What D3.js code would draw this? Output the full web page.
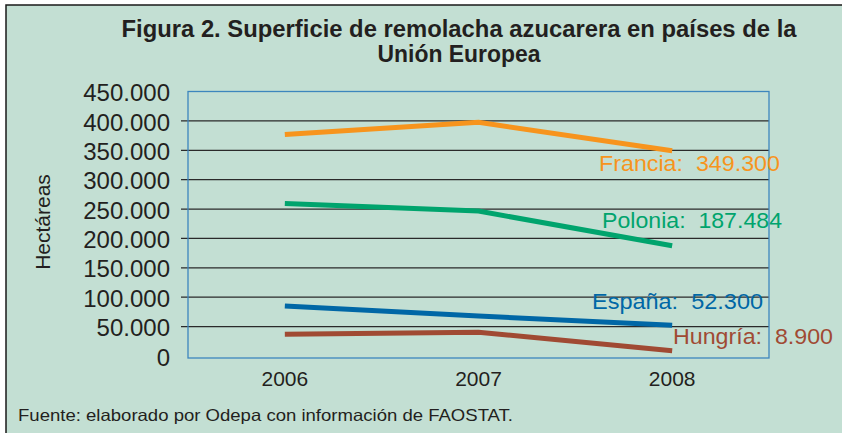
<!DOCTYPE html>
<html><head><meta charset="utf-8">
<script src="https://cdn.jsdelivr.net/npm/d3@7"></script>
<style>
html,body{margin:0;padding:0;background:#fff;}
svg{display:block;font-family:"Liberation Sans",Arial,sans-serif;}
</style></head>
<body>
<svg id="c" width="842" height="433"></svg>
<script>
const years = ["2006","2007","2008"];
const seriesNames = ["Francia","Polonia","España","Hungría"];
const francia = [377000, 397500, 349300];
const polonia = [259500, 246500, 187484];
const espana = [85000, 68000, 52300];
const hungria = [37000, 40400, 8900];
const endLabels = ["Francia:  349.300","Polonia:  187.484","España:  52.300","Hungría:  8.900"];
const yTicks = [0,50000,100000,150000,200000,250000,300000,350000,400000,450000];
const titleLines = ["Figura 2. Superficie de remolacha azucarera en países de la","Unión Europea"];
const yTitle = "Hectáreas";
const source = "Fuente: elaborado por Odepa con información de FAOSTAT.";

const colors = ["#f7941d","#00a46d","#0067a6","#a04a33"];
const values = [francia, polonia, espana, hungria];

const svg = d3.select("#c");
svg.append("rect").attr("x",6).attr("y",5).attr("width",842).attr("height",440)
  .attr("fill","#c3dfd3").attr("stroke","#1a1a1a").attr("stroke-width",1.5);

const pL=188, pR=769, pT=91.5, pB=356;
const x = d3.scaleBand().domain(years).range([pL,pR]);
const y = d3.scaleLinear().domain([0,450000]).range([pB,pT]);
const loc = d3.formatLocale({decimal:",",thousands:".",grouping:[3],currency:["",""]});
const fmt = loc.format(",");

svg.append("text").attr("x",459).attr("y",36.5).attr("text-anchor","middle")
  .attr("font-weight","bold").attr("font-size",23).attr("fill","#231f20")
  .attr("textLength",675).attr("lengthAdjust","spacingAndGlyphs").text(titleLines[0]);
svg.append("text").attr("x",459).attr("y",62).attr("text-anchor","middle")
  .attr("font-weight","bold").attr("font-size",23).attr("fill","#231f20")
  .attr("textLength",163).attr("lengthAdjust","spacingAndGlyphs").text(titleLines[1]);

const grid = svg.append("g");
grid.selectAll("line").data(yTicks.filter(d=>d>0 && d<450000)).join("line")
  .attr("x1",pL-7).attr("x2",pR).attr("y1",d=>y(d)).attr("y2",d=>y(d))
  .attr("stroke","#2a2a2a").attr("stroke-width",1.3);

const yAxis = svg.append("g").attr("transform",`translate(${pL},0)`)
  .call(d3.axisLeft(y).tickValues(yTicks).tickFormat(d=>fmt(d)).tickSize(0).tickPadding(18));
yAxis.select(".domain").remove();
yAxis.selectAll("text").attr("font-size",24).attr("fill","#231f20")
  .attr("font-family","'Liberation Sans',Arial,sans-serif").attr("dy","0.38em");

svg.append("rect").attr("x",pL).attr("y",y(450000)).attr("width",pR-pL).attr("height",pB+2-y(450000))
  .attr("fill","none").attr("stroke","#3d86bd").attr("stroke-width",1.3);

const xAxis = svg.append("g").attr("transform",`translate(0,${pB})`)
  .call(d3.axisBottom(x).tickSize(0).tickPadding(15));
xAxis.select(".domain").remove();
xAxis.selectAll("text").attr("font-size",21).attr("fill","#231f20")
  .attr("font-family","'Liberation Sans',Arial,sans-serif");

svg.append("text").attr("transform","translate(50,222) rotate(-90)").attr("text-anchor","middle")
  .attr("font-size",21).attr("fill","#231f20").text(yTitle);

const line = d3.line().x((d,i)=>x(years[i])+x.bandwidth()/2).y(d=>y(d));
values.forEach((v,k)=>{
  svg.append("path").datum(v).attr("d",line).attr("fill","none")
    .attr("stroke",colors[k]).attr("stroke-width",5);
});

const labPos = [[780,171],[782,228],[763,309],[833,344]];
const labW = [181,180,171,160];
endLabels.forEach((t,k)=>{
  svg.append("text").attr("x",labPos[k][0]).attr("y",labPos[k][1]).attr("text-anchor","end")
    .attr("font-size",22).attr("fill",colors[k])
    .style("white-space","pre")
    .attr("textLength",labW[k]).attr("lengthAdjust","spacingAndGlyphs").text(t);
});

svg.append("text").attr("x",18).attr("y",421).attr("font-size",16.5).attr("fill","#231f20")
  .attr("textLength",495).attr("lengthAdjust","spacingAndGlyphs").text(source);
</script>
</body></html>
